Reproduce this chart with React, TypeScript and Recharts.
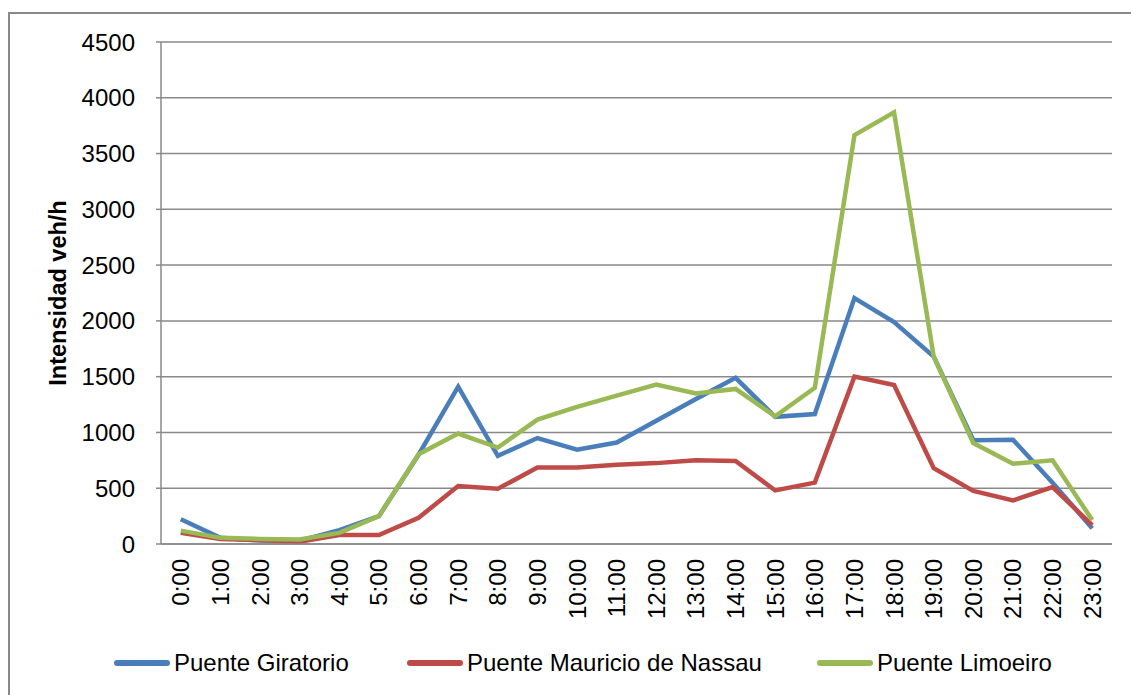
import { LineChart, Line, XAxis, YAxis, CartesianGrid, Legend, Label } from "recharts";

const hours = [
  "0:00", "1:00", "2:00", "3:00", "4:00", "5:00", "6:00", "7:00", "8:00", "9:00", "10:00", "11:00",
  "12:00", "13:00", "14:00", "15:00", "16:00", "17:00", "18:00", "19:00", "20:00", "21:00", "22:00", "23:00",
];

const giratorio = [
  222, 55, 32, 30, 125, 250, 800, 1410, 790, 950, 845, 910,
  1105, 1300, 1490, 1140, 1165, 2205, 1990, 1680, 930, 935, 550, 140,
];

const nassau = [
  100, 45, 35, 20, 80, 80, 235, 520, 495, 685, 685, 710,
  725, 750, 745, 480, 550, 1500, 1425, 680, 475, 390, 510, 170,
];

const limoeiro = [
  120, 55, 45, 40, 100, 250, 805, 990, 865, 1115, 1230, 1330,
  1430, 1350, 1390, 1145, 1400, 3665, 3870, 1680, 905, 720, 750, 215,
];

const yTicks = [0, 500, 1000, 1500, 2000, 2500, 3000, 3500, 4000, 4500];

const series = [
  { key: "giratorio", name: "Puente Giratorio", color: "#4A7EBB" },
  { key: "nassau", name: "Puente Mauricio de Nassau", color: "#BE4B48" },
  { key: "limoeiro", name: "Puente Limoeiro", color: "#98B954" },
];

const data = hours.map((h, i) => ({
  hour: h,
  giratorio: giratorio[i],
  nassau: nassau[i],
  limoeiro: limoeiro[i],
}));

const FONT = "'Liberation Sans', Arial, sans-serif";
const GRID = "#898989";

function HourTick({ x, y, payload }: any) {
  return (
    <text
      x={x}
      y={y}
      transform={`rotate(-90, ${x}, ${y})`}
      textAnchor="end"
      dominantBaseline="central"
      fontSize={24}
      fontFamily={FONT}
      fill="#000"
    >
      {payload.value}
    </text>
  );
}

function LegendContent() {
  return (
    <div style={{ position: "relative", height: 30, fontFamily: FONT, fontSize: 24 }}>
      {series.map((s, i) => {
        const left = [114, 407, 817][i];
        return (
          <div
            key={s.key}
            style={{ position: "absolute", left, top: 0, display: "flex", alignItems: "center", height: 30 }}
          >
            <span
              style={{
                display: "inline-block",
                width: 56,
                height: 6,
                borderRadius: 3,
                background: s.color,
                marginRight: 4,
              }}
            />
            <span style={{ color: "#000", whiteSpace: "nowrap" }}>{s.name}</span>
          </div>
        );
      })}
    </div>
  );
}

export default function App() {
  return (
    <div style={{ position: "absolute", left: 0, top: 0, width: 1131, height: 695, background: "#fff", overflow: "hidden" }}>
      <div
        style={{
          position: "absolute",
          left: 8,
          top: 12,
          width: 1200,
          height: 800,
          borderLeft: `2px solid ${GRID}`,
          borderTop: `2px solid ${GRID}`,
        }}
      />
      <LineChart
        width={1131}
        height={695}
        data={data}
        margin={{ top: 42, right: 19, left: 0, bottom: 0 }}
        style={{ position: "absolute", left: 0, top: 0 }}
      >
        <CartesianGrid vertical={false} stroke={GRID} strokeWidth={1.5} />
        <XAxis
          dataKey="hour"
          height={151}
          interval={0}
          padding={{ left: 19.8, right: 19.8 }}
          tickLine={false}
          tickSize={0}
          tickMargin={15}
          axisLine={{ stroke: GRID, strokeWidth: 1.5 }}
          tick={<HourTick />}
        />
        <YAxis
          width={161}
          domain={[0, 4500]}
          ticks={yTicks}
          interval={0}
          tickSize={5}
          tickMargin={21}
          tickLine={{ stroke: GRID, strokeWidth: 1.5 }}
          axisLine={{ stroke: GRID, strokeWidth: 1.5 }}
          tick={{ fill: "#000", fontSize: 24, fontFamily: FONT }}
        >
          <Label
            content={({ viewBox }: any) => {
              const cy = viewBox.y + viewBox.height / 2;
              return (
                <text
                  x={58}
                  y={cy}
                  transform={`rotate(-90, 58, ${cy})`}
                  textAnchor="middle"
                  dominantBaseline="central"
                  fontSize={23.5}
                  fontWeight="bold"
                  fontFamily={FONT}
                  fill="#000"
                >
                  Intensidad veh/h
                </text>
              );
            }}
          />
        </YAxis>
        <Legend
          verticalAlign="middle"
          align="center"
          layout="horizontal"
          content={<LegendContent />}
          wrapperStyle={{ position: "absolute", left: 0, top: 648, width: 1131, height: 30 }}
        />
        {series.map((s) => (
          <Line
            key={s.key}
            type="linear"
            dataKey={s.key}
            name={s.name}
            stroke={s.color}
            strokeWidth={4.5}
            dot={false}
            activeDot={false}
            isAnimationActive={false}
          />
        ))}
      </LineChart>
    </div>
  );
}
